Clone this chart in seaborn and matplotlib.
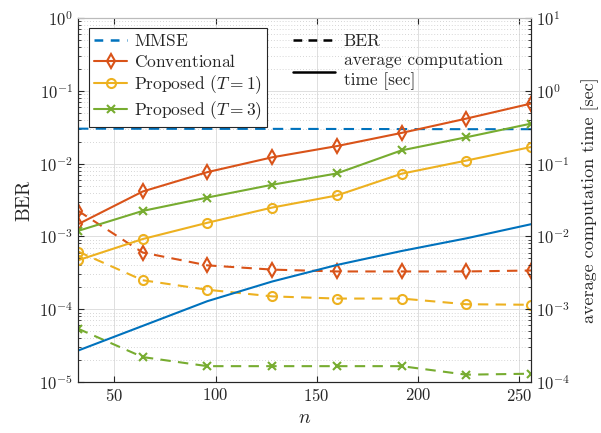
import numpy as np
import pandas as pd
import seaborn as sns
import matplotlib.pyplot as plt
from matplotlib.lines import Line2D
from matplotlib.ticker import LogLocator, NullFormatter, MultipleLocator

sns.set_style("ticks")
plt.rcParams['font.family'] = ['cmr10', 'DejaVu Serif']
plt.rcParams['mathtext.fontset'] = 'cm'
plt.rcParams['axes.formatter.use_mathtext'] = True
plt.rcParams['axes.unicode_minus'] = False

# data
n = [32, 64, 96, 128, 160, 192, 224, 256]
ber_mmse = [0.0302, 0.0301, 0.0300, 0.0300, 0.0299, 0.0298, 0.0297, 0.0297]
ber_conv = [2.25e-3, 6.0e-4, 4.0e-4, 3.5e-4, 3.3e-4, 3.3e-4, 3.3e-4, 3.4e-4]
ber_t1 = [6.2e-4, 2.5e-4, 1.85e-4, 1.5e-4, 1.4e-4, 1.4e-4, 1.17e-4, 1.15e-4]
ber_t3 = [5.4e-5, 2.2e-5, 1.65e-5, 1.65e-5, 1.65e-5, 1.65e-5, 1.26e-5, 1.3e-5]
time_mmse = [2.7e-4, 5.9e-4, 1.29e-3, 2.4e-3, 4.05e-3, 6.3e-3, 9.4e-3, 1.47e-2]
time_conv = [0.0147, 0.0414, 0.0764, 0.122, 0.174, 0.264, 0.415, 0.668]
time_t1 = [0.0047, 0.0092, 0.0154, 0.0249, 0.0365, 0.0726, 0.110, 0.169]
time_t3 = [0.0119, 0.0224, 0.0342, 0.0512, 0.0733, 0.152, 0.230, 0.354]

names = ['MMSE', 'Conventional', 'Proposed ($T=1$)', 'Proposed ($T=3$)']
colors = ['#0072BD', '#D95319', '#EDB120', '#77AC30']
markers = [None, 'd', 'o', 'x']
msizes = [0, 7, 6.5, 6]

fig = plt.figure(figsize=(6.01, 4.33), dpi=100)
ax = fig.add_axes([0.1298, 0.1178, 0.7537, 0.8406])
ax2 = ax.twinx()

bers = [ber_mmse, ber_conv, ber_t1, ber_t3]
times = [time_mmse, time_conv, time_t1, time_t3]

for name, c, m, ms, b, t in zip(names, colors, markers, msizes, bers, times):
    kw = dict(color=c, lw=1.5, markersize=ms, markeredgewidth=1.5,
              markerfacecolor='none', markeredgecolor=c)
    if m is not None:
        kw['marker'] = m
    sns.lineplot(x=n, y=b, ax=ax, linestyle=(0, (5, 3.5)), **kw)
    sns.lineplot(x=n, y=t, ax=ax2, linestyle='-', **kw)

ax.set_yscale('log')
ax2.set_yscale('log')
ax.set_ylim(1e-5, 1)
ax2.set_ylim(1e-4, 10)
ax.set_xlim(32, 256)
ax.xaxis.set_major_locator(MultipleLocator(50))

for a in (ax, ax2):
    a.yaxis.set_major_locator(LogLocator(base=10, numticks=10))
    a.yaxis.set_minor_locator(LogLocator(base=10, subs=np.arange(2, 10), numticks=20))
    a.yaxis.set_minor_formatter(NullFormatter())
    a.tick_params(which='both', direction='in', labelsize=12, colors='#262626')
    a.tick_params(which='major', length=4)
    a.tick_params(which='minor', length=2)
    for s in a.spines.values():
        s.set_color('#262626')
        s.set_linewidth(0.8)
    a.spines['top'].set_color('#bbbbbb')
ax.tick_params(axis='x', which='both', top=True)
ax.tick_params(axis='y', right=False, which='both')
ax2.tick_params(axis='y', left=False, which='both')

ax.grid(True, which='major', color='#dedede', lw=0.7, ls='-')
ax.grid(True, which='minor', axis='y', color='#c8c8c8', lw=0.6, ls=(0, (1, 2.5)))
ax.set_axisbelow(True)

ax.set_xlabel('$n$', fontsize=14)
ax.set_ylabel('BER', fontsize=14)
ax2.set_ylabel('average computation time [sec]', fontsize=13, labelpad=8)

handles = []
for name, c, m, ms in zip(names, colors, markers, msizes):
    if m is None:
        handles.append(Line2D([], [], color=c, lw=1.8, ls=(0, (3.5, 3))))
    else:
        handles.append(Line2D([], [], color=c, lw=1.5, marker=m, markersize=ms,
                              markerfacecolor='none', markeredgewidth=1.5))
# trailing thin math space keeps all legend rows the same height
leg_labels = ['MMSE$\\,$', 'Conventional$\\,$', names[2], names[3]]
leg1 = ax2.legend(handles, leg_labels, loc='upper left', bbox_to_anchor=(0.024, 0.972),
                  borderaxespad=0, fontsize=12.5, frameon=True, fancybox=False,
                  edgecolor='#262626', framealpha=1, handlelength=1.9,
                  handletextpad=0.4, labelspacing=0.2, borderpad=0.3)
leg1.get_frame().set_linewidth(0.8)
ax2.add_artist(leg1)

h2 = [Line2D([], [], color='black', lw=1.8, ls=(0, (3.5, 2.5))),
      Line2D([], [], color='black', lw=1.8, ls='-')]
leg2 = ax2.legend(h2, ['BER', 'average computation\ntime [sec]'], loc='upper left',
                  bbox_to_anchor=(0.46, 0.975), borderaxespad=0, fontsize=12.5,
                  frameon=False, handlelength=2.4, handletextpad=0.5, labelspacing=0.2)
leg2.get_texts()[1].set_linespacing(1.35)

fig.savefig('out.png', dpi=100)
